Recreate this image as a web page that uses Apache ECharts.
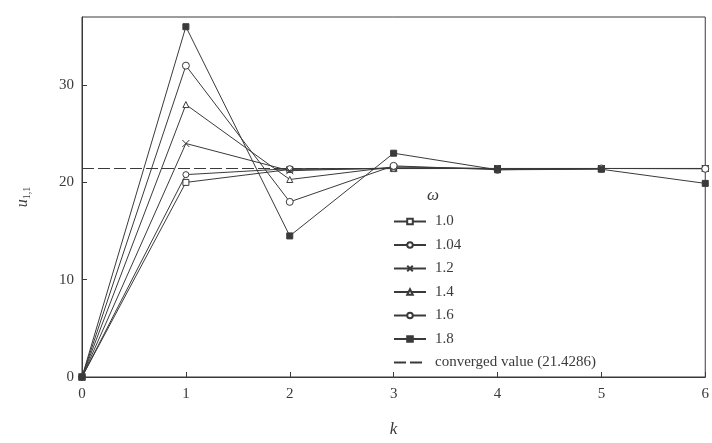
<!DOCTYPE html>
<html>
<head>
<meta charset="utf-8">
<script src="https://cdn.jsdelivr.net/npm/echarts@6/dist/echarts.min.js"></script>
<style>
html,body{margin:0;padding:0;background:#fff;}
#chart{width:712px;height:443px;}
</style>
</head>
<body>
<div id="chart"></div>
<script>
const kValues = [0, 1, 2, 3, 4, 5, 6];
const omegaLabels = ['1.0', '1.04', '1.2', '1.4', '1.6', '1.8'];
const u_w100 = [0, 20.0, 21.33, 21.42, 21.43, 21.43, 21.43];
const u_w104 = [0, 20.8, 21.41, 21.43, 21.43, 21.43, 21.43];
const u_w120 = [0, 24.0, 21.2, 21.5, 21.43, 21.43, 21.43];
const u_w140 = [0, 28.0, 20.3, 21.6, 21.4, 21.43, 21.43];
const u_w160 = [0, 32.0, 18.0, 21.7, 21.3, 21.43, 21.4];
const u_w180 = [0, 36.0, 14.5, 23.0, 21.3, 21.35, 19.9];
const convergedValue = 21.4286;
const convergedLabel = 'converged value (21.4286)';
const xTicks = [0, 1, 2, 3, 4, 5, 6];
const yTicks = [0, 10, 20, 30];

const seriesValues = [u_w100, u_w104, u_w120, u_w140, u_w160, u_w180];
const ink = '#3a3a3a';
const symbols = [
  {symbol: 'rect', size: 6, fill: '#fff'},
  {symbol: 'circle', size: 6, fill: '#fff'},
  {symbol: 'path://M0,0L10,10M10,0L0,10', size: 7, fill: 'none'},
  {symbol: 'triangle', size: 6, fill: '#fff'},
  {symbol: 'circle', size: 7, fill: '#fff'},
  {symbol: 'rect', size: 6, fill: ink}
];

const series = seriesValues.map((vals, i) => ({
  name: omegaLabels[i],
  type: 'line',
  data: kValues.map((k, j) => [k, vals[j]]),
  symbol: symbols[i].symbol,
  symbolSize: symbols[i].size,
  showAllSymbol: true,
  lineStyle: {color: ink, width: 1},
  itemStyle: {color: symbols[i].fill, borderColor: ink, borderWidth: 1},
  z: 3 + i,
  animation: false
}));
series.push({
  name: convergedLabel,
  type: 'line',
  data: [[kValues[0], convergedValue], [kValues[kValues.length - 1], convergedValue]],
  symbol: 'rect',
  showSymbol: false,
  lineStyle: {color: ink, width: 1, type: [12, 4]},
  itemStyle: {color: 'rgba(0,0,0,0)', borderColor: 'rgba(0,0,0,0)'},
  z: 2,
  animation: false
});

const chart = echarts.init(document.getElementById('chart'));
chart.setOption({
  backgroundColor: '#fff',
  animation: false,
  textStyle: {fontFamily: 'Liberation Serif', color: ink},
  grid: {left: 82, right: 6, top: 17, bottom: 59, show: true, borderColor: ink, borderWidth: 1},
  xAxis: {
    type: 'value', min: 0, max: 6, interval: 1,
    name: 'k', nameLocation: 'middle', nameGap: 44,
    nameTextStyle: {fontFamily: 'Liberation Serif', fontStyle: 'italic', fontSize: 17, color: ink},
    axisLine: {show: true, lineStyle: {color: ink, width: 1}},
    axisTick: {show: true, inside: true, length: 5, lineStyle: {color: ink}},
    axisLabel: {fontSize: 15, color: ink, margin: 10, fontFamily: 'Liberation Serif',
      formatter: v => xTicks.includes(v) ? String(v) : ''},
    splitLine: {show: false}
  },
  yAxis: {
    type: 'value', min: 0, max: 37, interval: 10,
    name: '{i|u}{s|1,1}', nameLocation: 'middle', nameGap: 50, nameRotate: 90,
    nameTextStyle: {rich: {
      i: {fontFamily: 'Liberation Serif', fontStyle: 'italic', fontSize: 16, color: ink},
      s: {fontFamily: 'Liberation Serif', fontSize: 10, color: ink, verticalAlign: 'bottom', padding: [8, 0, 0, 0]}
    }},
    axisLine: {show: true, lineStyle: {color: ink, width: 1}},
    axisTick: {show: true, inside: true, length: 5, lineStyle: {color: ink}},
    axisLabel: {fontSize: 15, color: ink, margin: 8, fontFamily: 'Liberation Serif', showMaxLabel: false,
      formatter: v => yTicks.includes(v) ? String(v) : ''},
    splitLine: {show: false}
  },
  legend: {
    orient: 'vertical', left: 388, top: 209,
    itemWidth: 32, itemHeight: 7, itemGap: 8.5,
    textStyle: {fontFamily: 'Liberation Serif', fontSize: 15, color: ink, padding: [0, 0, 0, 4]},
    data: omegaLabels.concat([convergedLabel])
  },
  graphic: [{
    type: 'text', left: 427, top: 187,
    style: {text: 'ω', fontFamily: 'Liberation Serif', fontStyle: 'italic', fontSize: 17, fill: ink}
  }],
  series: series
});
</script>
</body>
</html>
